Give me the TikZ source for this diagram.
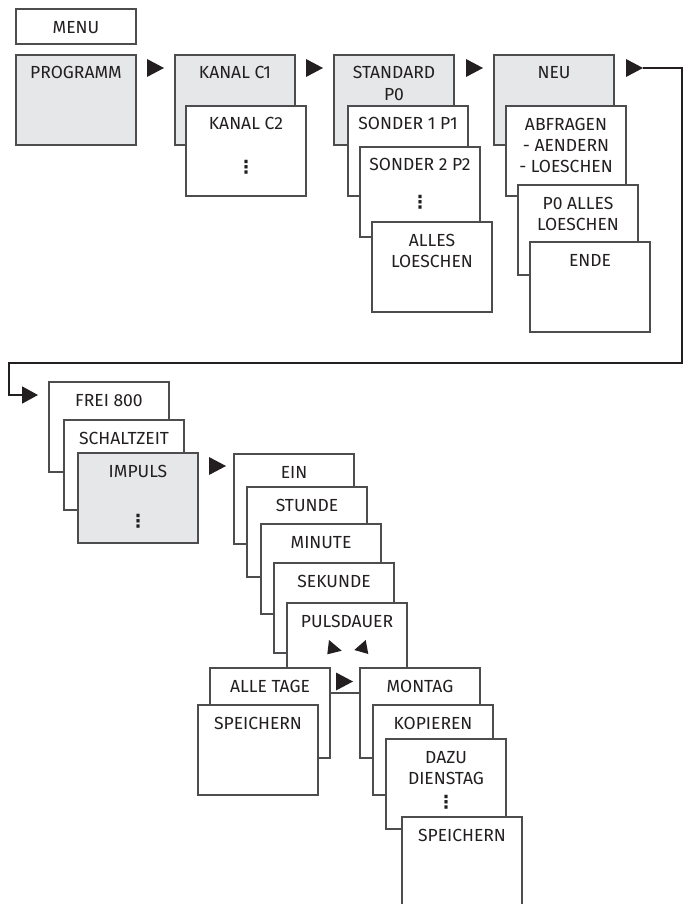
\documentclass[tikz,border=0pt]{standalone}
\usepackage{fontspec}
\setmainfont{Fira Sans}
\newfontfamily\dejavu{DejaVu Sans}
\usetikzlibrary{calc,arrows.meta}
\definecolor{boxgray}{HTML}{E6E7E8}
\definecolor{linegray}{HTML}{4D4D4F}
\definecolor{txtcol}{HTML}{231F20}
\newcommand\myvdots{{\dejavu\bfseries ⋮}}
% box macro: [style]{name}{left}{top}{number of lines}{text}
\newcommand\bx[6][box]{%
  \node[#1] (#2) at (#3+60,#4+45) {};
  \node[txt] (#2-t) at ($(#2.north)+(0,24+21.4*#5-21.4)$) {#6};}
\newcommand\trir[3]{\fill[txtcol] (#2,#3-9) -- (#2+17,#3) -- (#2,#3+9) -- cycle;}
\begin{document}
\begin{tikzpicture}[x=1pt,y=-1pt,
  box/.style={draw=linegray,line width=1.2pt,fill=white,minimum width=120pt,
    minimum height=90pt,inner sep=0pt,outer sep=0pt},
  gbox/.style={box,fill=boxgray},
  txt/.style={anchor=base,align=center,inner sep=0pt,
    font=\fontsize{17.5}{21.4}\selectfont,text=txtcol},
  dots/.style={inner sep=0pt,font=\fontsize{18}{21.4}\selectfont,text=txtcol},
  conn/.style={draw=txtcol,line width=1.8pt}]
\useasboundingbox (0,0) rectangle (683,904);
% MENU
\node[box,minimum height=35pt] (menu) at (76,26.5) {};
\node[txt] (menu-t) at (76,34) {MENU};
% row 1
\bx[gbox]{prog}{16}{55}{1}{PROGRAMM}
\bx[gbox]{kc1}{175}{55}{1}{KANAL C1}
\bx{kc2}{186}{106}{1}{KANAL C2}
\node[dots] (kc2-d) at (246,167) {\myvdots};
\bx[gbox]{std}{334}{55}{2}{STANDARD\\P0}
\bx{s1}{348}{106}{1}{SONDER 1 P1}
\bx{s2}{360}{147}{1}{SONDER 2 P2}
\node[dots] (s2-d) at (420,202.5) {\myvdots};
\bx{alles}{372}{222}{2}{ALLES\\LOESCHEN}
\bx[gbox]{neu}{494}{55}{1}{NEU}
\bx{abf}{506}{106}{3}{ABFRAGEN\\- AENDERN\\- LOESCHEN}
\bx{p0}{518}{185}{2}{P0 ALLES\\LOESCHEN}
\bx{ende}{530}{242}{1}{ENDE}
% arrows row 1
\trir{a1}{147}{68}
\trir{a2}{306}{68}
\trir{a3}{466}{68}
\trir{a4}{626}{68}
\coordinate (c4) at (643,68);
\coordinate (c7) at (38,395);
\draw[conn,-{Triangle[length=16pt,width=17pt]}] (c4) -- (682,68) -- (682,363) -- (9,363) -- (9,395) -- (c7);
% block 2
\bx{frei}{49}{382}{1}{FREI 800}
\bx{schalt}{64}{420}{1}{SCHALTZEIT}
\bx[gbox]{imp}{78}{453}{1}{IMPULS}
\node[dots] (imp-d) at (138,521) {\myvdots};
\trir{a5}{209}{466}
\bx{ein}{234}{454}{1}{EIN}
\bx{stunde}{247}{487}{1}{STUNDE}
\bx{minute}{261}{524}{1}{MINUTE}
\bx{sekunde}{274}{563}{1}{SEKUNDE}
\bx{puls}{287}{603}{1}{PULSDAUER}
\fill[txtcol] (329,640) -- (341.7,650.7) -- (327.3,654.3) -- cycle;
\fill[txtcol] (365.7,640) -- (368.3,654) -- (354.3,650) -- cycle;
\bx{alletage}{210}{668}{1}{ALLE TAGE}
\bx{speich1}{198}{705}{1}{SPEICHERN}
\bx{montag}{360}{668}{1}{MONTAG}
\trir{a6}{336}{681.5}
\bx{kopieren}{373}{705}{1}{KOPIEREN}
\bx{dazu}{386}{739}{2}{DAZU\\DIENSTAG}
\node[dots] (dazu-d) at (446,802.5) {\myvdots};
\bx{speich2}{402}{817}{1}{SPEICHERN}
\end{tikzpicture}
\end{document}
